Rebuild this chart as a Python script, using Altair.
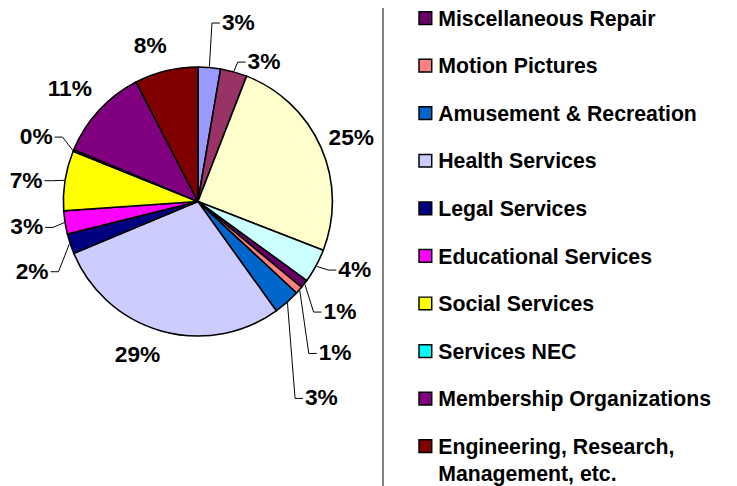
import math
import altair as alt
import pandas as pd

# ---------------- data ----------------
categories = [
    "Hotels & Lodging", "Personal Services", "Business Services", "Auto Repair & Services",
    "Miscellaneous Repair", "Motion Pictures", "Amusement & Recreation", "Health Services",
    "Legal Services", "Educational Services", "Social Services", "Services NEC",
    "Membership Organizations", "Engineering, Research, Management, etc.",
]
shares = [2.7, 3.2, 25.0, 4.1, 1.0, 0.9, 3.2, 28.6, 2.4, 2.8, 7.2, 0.2, 11.1, 7.6]
colors = [
    "#9999FF", "#993366", "#FFFFCC", "#CCFFFF", "#660066", "#FF8080", "#0066CC",
    "#CCCCFF", "#000080", "#FF00FF", "#FFFF00", "#00FFFF", "#800080", "#800000",
]
legend_names = categories[4:]
legend_text = {"Engineering, Research, Management, etc.": "Engineering, Research,\nManagement, etc."}

# ---------------- layout ----------------
W, H = 729, 478
CX, CY, R = 192, 193, 136
FONT = "Liberation Sans"
LABEL_FS = 23
LEGEND_FS = 21.5
LEG_X = 422          # legend symbol centre (chart coords)
LEG_Y0, LEG_DY = 7.5, 48.1
# per-label placement: (angle nudge in degrees, label radius, leader line?)
label_layout = [
    (7.9, 185, True), (9.9, 156, True), (1.2, 168, False), (-5.0, 173, True),
    (0.1, 182, True), (6.7, 207, True), (9.3, 235, True), (5.6, 167, False),
    (-4.6, 182, True), (0.4, 175, True), (-2.1, 175, True), (-0.6, 176, True),
    (-1.5, 172, False), (-3.4, 164, False),
]

total = sum(shares)
rows = []
cum = 0.0
for i, (name, s) in enumerate(zip(categories, shares)):
    mid = (cum + s / 2) / total * 360.0
    cum += s
    nud, lr, lead = label_layout[i]
    la = math.radians(mid + nud)
    lx = CX + lr * math.sin(la)
    ly = CY - lr * math.cos(la)
    ma = math.radians(mid)
    x0 = CX + (R + 1) * math.sin(ma)
    y0 = CY - (R + 1) * math.cos(ma)
    txt = f"{round(s)}%"
    half = ((len(txt) - 1) * 0.556 + 0.889) * LABEL_FS / 2
    side = 1 if math.sin(la) > 0 else -1
    x2 = lx - side * (half + 2)
    x1 = x2 - side * 8
    rows.append(dict(name=name, share=s / 100.0, idx=i, lx=lx, ly=ly,
                     x0=x0, y0=y0, x1=x1, y1=ly, x2=x2, y2=ly, lead=lead))
df = pd.DataFrame(rows)
lead_df = df[df["lead"]]

leg_df = pd.DataFrame({
    "name": legend_names,
    "label": [legend_text.get(n, n) for n in legend_names],
})

color_scale = alt.Scale(domain=categories, range=colors)

pie = alt.Chart(df).mark_arc(radius=R, stroke="black", strokeWidth=1.6).encode(
    theta=alt.Theta("share:Q", stack=True),
    color=alt.Color("name:N", scale=color_scale, legend=None),
    order=alt.Order("idx:Q"),
    x=alt.value(CX),
    y=alt.value(CY),
)

seg1 = alt.Chart(lead_df).mark_rule(color="black", strokeWidth=1).encode(
    x=alt.X("x0:Q", scale=None), y=alt.Y("y0:Q", scale=None),
    x2="x1:Q", y2="y1:Q",
)
seg2 = alt.Chart(lead_df).mark_rule(color="black", strokeWidth=1).encode(
    x=alt.X("x1:Q", scale=None), y=alt.Y("y1:Q", scale=None),
    x2="x2:Q", y2="y2:Q",
)

labels = alt.Chart(df).mark_text(
    font=FONT, fontSize=LABEL_FS, fontWeight="bold", color="black",
    align="center", baseline="middle",
).encode(
    x=alt.X("lx:Q", scale=None),
    y=alt.Y("ly:Q", scale=None),
    text=alt.Text("share:Q", format=".0%"),
)

divider = alt.Chart(df).mark_rule(color="#808080", strokeWidth=1.2).encode(
    x=alt.value(379), y=alt.value(-10), y2=alt.value(H + 10)
)

leg_y = alt.Y("name:N", axis=None,
              scale=alt.Scale(type="point", domain=legend_names,
                              range=[LEG_Y0, LEG_Y0 + 9 * LEG_DY], padding=0))
leg_sym = alt.Chart(leg_df).mark_square(size=165, stroke="black", strokeWidth=1.5, opacity=1).encode(
    x=alt.value(LEG_X),
    y=leg_y,
    color=alt.Color("name:N", scale=color_scale, legend=None),
)
leg_txt = alt.Chart(leg_df).mark_text(
    font=FONT, fontSize=LEGEND_FS, fontWeight="bold", color="black",
    align="left", baseline="alphabetic", dy=7.7, lineBreak="\n", lineHeight=27,
).encode(
    x=alt.value(LEG_X + 13),
    y=leg_y,
    text="label:N",
)
legend = alt.layer(leg_sym, leg_txt)

chart = alt.layer(pie, seg1, seg2, labels, divider, legend).resolve_scale(
    x="independent", y="independent"
).properties(
    width=W, height=H,
    autosize=alt.AutoSizeParams(type="none"),
    padding=0,
).configure_view(strokeWidth=0)

chart.save("out.html", embed_options={"renderer": "svg", "actions": False})
